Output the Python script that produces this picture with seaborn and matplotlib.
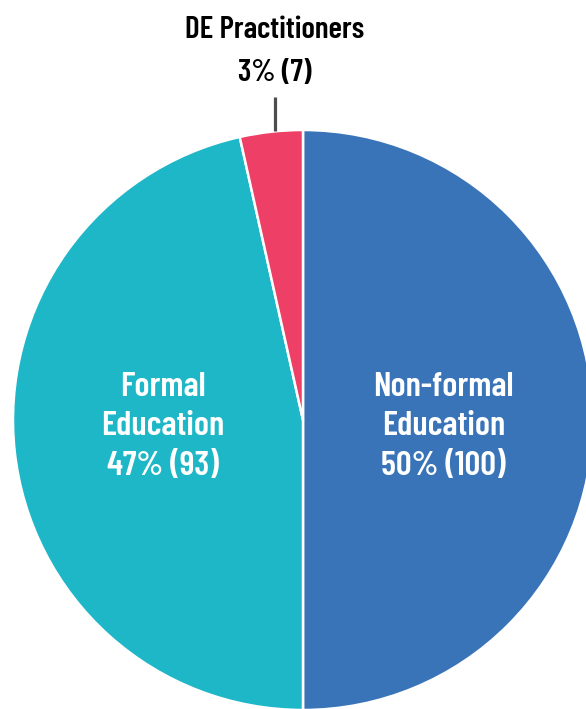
import numpy as np
import matplotlib
matplotlib.use('Agg')
import matplotlib.pyplot as plt
import seaborn as sns

# ──────────────────────────────────────────────────────────────────────────────
# Dados
# ──────────────────────────────────────────────────────────────────────────────
categorias = ['Non-formal\nEducation', 'Formal\nEducation', 'DE Practitioners']
contagens = [100, 93, 7]
percentuais = [50, 47, 3]
cores = ['#3a74b8', '#1eb7c8', '#ee3f66']

sns.set_theme(style='white')
plt.rcParams['font.family'] = ['Barlow Condensed', 'Liberation Sans Narrow', 'DejaVu Sans']

W, H = 586, 709
cx, cy, r = 303, 420, 290
fig = plt.figure(figsize=(W / 100, H / 100), dpi=100)
ax = fig.add_axes([(cx - r) / W, (H - cy - r) / H, 2 * r / W, 2 * r / H])

wedges, _ = ax.pie(contagens, colors=cores, startangle=90, counterclock=False,
                   radius=1, wedgeprops=dict(edgecolor='white', linewidth=1.8))
ax.set_xlim(-1, 1)
ax.set_ylim(-1, 1)
ax.set_aspect('equal')
ax.axis('off')

for i, w in enumerate(wedges):
    ang = np.deg2rad((w.theta1 + w.theta2) / 2)
    if percentuais[i] > 10:
        texto = f'{categorias[i]}\n{percentuais[i]}% ({contagens[i]})'
        ax.text(0.485 * np.cos(ang), -0.024, texto, ha='center', va='center',
                color='white', fontsize=25, fontweight=600, linespacing=1.36)
    else:
        # rótulo externo com linha de chamada vertical
        x = np.cos(ang) * 0.88
        y0 = np.sqrt(1 - x ** 2)
        ax.plot([x, x], [y0, 1.115], color='#4d4d4d', lw=2.3,
                solid_capstyle='butt', clip_on=False)
        ax.text(x, 1.345, categorias[i], ha='center', va='center', color='black',
                fontsize=22.5, fontweight=600, clip_on=False)
        ax.text(x, 1.195, f'{percentuais[i]}% ({contagens[i]})', ha='center', va='center',
                color='black', fontsize=22.5, fontweight=600, clip_on=False)

fig.savefig('out.png', dpi=100)
